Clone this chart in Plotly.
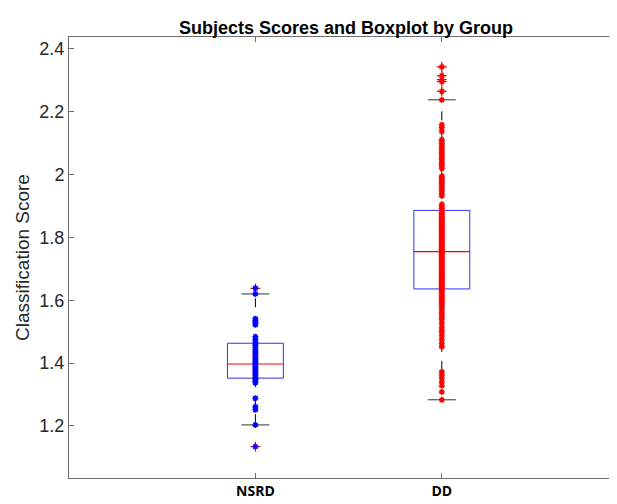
import plotly.graph_objects as go

groups = ["NSRD", "DD"]
group_pos = [1, 2]

nsrd_scores = [1.638, 1.620, 1.541, 1.535, 1.528, 1.522, 1.484, 1.474, 1.465, 1.458,
               1.450, 1.443, 1.436, 1.430, 1.424, 1.418, 1.412, 1.406, 1.400, 1.395,
               1.390, 1.384, 1.378, 1.372, 1.366, 1.360, 1.354, 1.348, 1.342, 1.337,
               1.288, 1.261, 1.251, 1.203, 1.134]

dd_scores = [2.343, 2.315, 2.302, 2.296, 2.265,
             2.238, 2.159, 2.149, 2.137, 2.111, 2.105, 2.098, 2.092, 2.085, 2.078,
             2.072, 2.066, 2.060, 2.053, 2.047, 2.040, 2.033, 2.027, 2.020, 1.995,
             1.990, 1.984, 1.978, 1.972, 1.966, 1.960, 1.953, 1.947, 1.940, 1.932,
             1.905, 1.898, 1.892, 1.886,
             1.880, 1.875, 1.871, 1.866, 1.862, 1.857, 1.853, 1.848, 1.843, 1.839,
             1.834, 1.830, 1.825, 1.821, 1.816, 1.812, 1.807, 1.803, 1.798, 1.793,
             1.789, 1.784, 1.780, 1.775, 1.771, 1.766, 1.762, 1.758, 1.755, 1.752,
             1.748, 1.744, 1.739, 1.735, 1.731, 1.726, 1.722, 1.717, 1.713, 1.708,
             1.704, 1.699, 1.695, 1.690, 1.686, 1.681, 1.677, 1.672, 1.668, 1.663,
             1.659, 1.654, 1.650, 1.645, 1.641, 1.637,
             1.632, 1.627, 1.621, 1.616, 1.611, 1.605, 1.600, 1.594, 1.589, 1.583,
             1.578, 1.570, 1.562, 1.553, 1.545, 1.538, 1.527, 1.515, 1.505, 1.497,
             1.486, 1.474, 1.462, 1.452, 1.372, 1.362, 1.352, 1.340, 1.328, 1.308,
             1.283]

q1 = [1.352, 1.636]
median = [1.397, 1.755]
q3 = [1.463, 1.886]
whisker_lo = [1.203, 1.283]
whisker_hi = [1.620, 2.238]
outliers = [[1.638, 1.134], [2.343, 2.315, 2.302, 2.296, 2.265]]

point_colors = ["#0000ff", "#ff0000"]
scores = [nsrd_scores, dd_scores]

box_half = 0.15
cap_half = 0.075

fig = go.Figure()

for i, x in enumerate(group_pos):
    fig.add_trace(go.Scatter(x=[x, x, None, x, x],
                             y=[q3[i], whisker_hi[i], None, q1[i], whisker_lo[i]],
                             mode="lines", line=dict(color="black", width=1, dash="dash"),
                             hoverinfo="skip"))
    fig.add_trace(go.Scatter(x=[x - cap_half, x + cap_half, None, x - cap_half, x + cap_half],
                             y=[whisker_hi[i], whisker_hi[i], None, whisker_lo[i], whisker_lo[i]],
                             mode="lines", line=dict(color="#333333", width=1),
                             hoverinfo="skip"))
    fig.add_trace(go.Scatter(x=[x - box_half, x + box_half, x + box_half, x - box_half, x - box_half],
                             y=[q1[i], q1[i], q3[i], q3[i], q1[i]],
                             mode="lines", line=dict(color="#3030ff", width=1),
                             hoverinfo="skip"))
    fig.add_trace(go.Scatter(x=[x - box_half, x + box_half], y=[median[i], median[i]],
                             mode="lines", line=dict(color="#ff0000", width=1.2),
                             hoverinfo="skip"))
    fig.add_trace(go.Scatter(x=[x] * len(outliers[i]), y=outliers[i], mode="markers",
                             marker=dict(symbol="cross-thin-open", size=7, color="#ff0000",
                                         line=dict(color="#ff0000", width=1.2)),
                             hoverinfo="skip"))

for i, x in enumerate(group_pos):
    fig.add_trace(go.Scatter(x=[x] * len(scores[i]), y=scores[i], mode="markers",
                             marker=dict(symbol="asterisk-open", size=5, color=point_colors[i],
                                         line=dict(color=point_colors[i], width=1.5)),
                             name=groups[i]))

axis_color = "#6e6e6e"
fig.update_layout(
    width=609, height=496,
    margin=dict(l=61, r=0, t=29, b=26),
    paper_bgcolor="white", plot_bgcolor="white",
    showlegend=False,
    title=dict(text="<b>Subjects Scores and Boxplot by Group</b>",
               x=0.555, xanchor="center", y=0.96, yanchor="middle",
               font=dict(family="Liberation Sans", size=18, color="black")),
    xaxis=dict(range=[0, 2.94], tickvals=group_pos, ticktext=groups,
               ticks="inside", ticklen=5, tickcolor=axis_color,
               showline=True, linecolor=axis_color, linewidth=1, mirror="ticks",
               showgrid=False, zeroline=False,
               tickfont=dict(family="Open Sans, Liberation Sans", size=14,
                             color="black", weight="bold")),
    yaxis=dict(range=[1.034, 2.438], tickvals=[1.2, 1.4, 1.6, 1.8, 2.0, 2.2, 2.4],
               ticktext=["1.2", "1.4", "1.6", "1.8", "2", "2.2", "2.4"],
               ticks="inside", ticklen=5, tickcolor=axis_color,
               showline=True, linecolor=axis_color, linewidth=1, mirror="ticks",
               showgrid=False, zeroline=False,
               tickfont=dict(family="Liberation Sans", size=18, color="#262626"),
               title=dict(text="Classification Score", standoff=4,
                          font=dict(family="Liberation Sans", size=19, color="#262626"))),
)

fig.write_html("out.html")
